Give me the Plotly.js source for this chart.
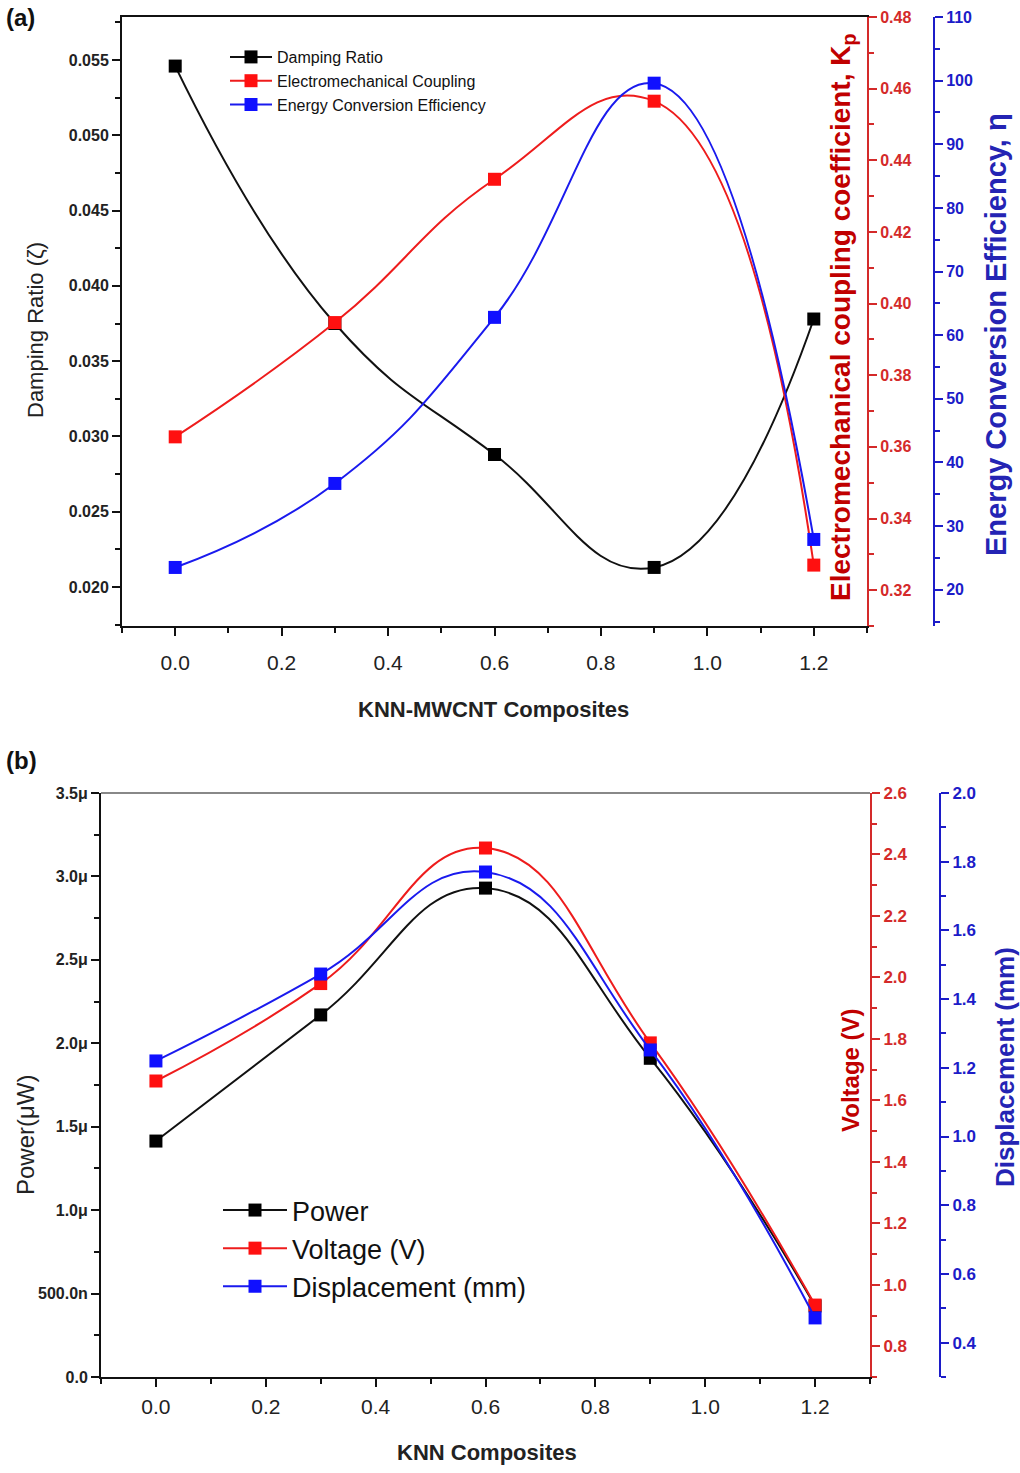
<!DOCTYPE html>
<html><head><meta charset="utf-8">
<script src="https://cdn.plot.ly/plotly-3.0.1.min.js"></script>
<style>html,body{margin:0;padding:0;background:#fff}</style>
</head><body><div id="chart" style="width:1020px;height:1473px"></div>
<script>
// ---- Panel (a) data ----
const compA = [0, 0.3, 0.6, 0.9, 1.2];
const dampingRatio = [0.0546, 0.0375, 0.0288, 0.0213, 0.0378];
const couplingKp = [0.3628, 0.3947, 0.4347, 0.4565, 0.3270];
const conversionEff = [23.5, 36.7, 62.8, 99.6, 27.9];
const namesA = ['Damping Ratio', 'Electromechanical Coupling', 'Energy Conversion Efficiency'];

// ---- Panel (b) data ----
const compB = [0, 0.3, 0.6, 0.9, 1.2];
const powerW = [1.414e-6, 2.17e-6, 2.93e-6, 1.91e-6, 0.426e-6];
const voltageV = [1.663, 1.98, 2.421, 1.787, 0.934];
const displacementMM = [1.22, 1.473, 1.77, 1.252, 0.472];
const namesB = ['Power', 'Voltage (V)', 'Displacement (mm)'];

// ---- tick labels ----
const powerTickVals = [0, 0.5e-6, 1.0e-6, 1.5e-6, 2.0e-6, 2.5e-6, 3.0e-6, 3.5e-6];
const powerTickText = ['0.0', '500.0n', '1.0\u03bc', '1.5\u03bc', '2.0\u03bc', '2.5\u03bc', '3.0\u03bc', '3.5\u03bc'];

const FONT = 'Liberation Sans, Arial, sans-serif';
const BLACK = '#111111', RED = '#ee1c1c', BLUE = '#1a1aee';
const RED_AX = '#d42a2a', BLUE_AX = '#1c1cc8';
const RED_T = '#c00000', BLUE_T = '#2424b4';

function line(x, y, color, mcolor, name, xa, ya, leg, msize) {
  return {x: x, y: y, name: name, xaxis: xa, yaxis: ya, legend: leg,
    type: 'scatter', mode: 'lines+markers',
    line: {color: color, width: 2, shape: 'spline', smoothing: 1.3},
    marker: {symbol: 'square', size: msize, color: mcolor}};
}

const traces = [
  line(compA, dampingRatio, BLACK, '#000000', namesA[0], 'x', 'y', 'legend', 13),
  line(compA, couplingKp, RED, '#ff1010', namesA[1], 'x', 'y2', 'legend', 13),
  line(compA, conversionEff, BLUE, '#1010ff', namesA[2], 'x', 'y3', 'legend', 13),
  line(compB, powerW, BLACK, '#000000', namesB[0], 'x2', 'y4', 'legend2', 13),
  line(compB, voltageV, RED, '#ff1010', namesB[1], 'x2', 'y5', 'legend2', 13),
  line(compB, displacementMM, BLUE, '#1010ff', namesB[2], 'x2', 'y6', 'legend2', 13)
];

const tickFontBold = {family: FONT, size: 16, color: '#222', weight: 'bold'};
function yax(extra) {
  return Object.assign({
    showline: true, linewidth: 2, linecolor: '#111', ticks: 'outside', ticklen: 8, tickwidth: 2,
    tickcolor: '#111', showgrid: false, zeroline: false, tickfont: tickFontBold,
    fixedrange: true
  }, extra);
}

const domA = [1 - 626/1473, 1 - 17/1473];
const domB = [1 - 1377/1473, 1 - 793/1473];

const layout = {
  width: 1020, height: 1473,
  margin: {l: 0, r: 0, t: 0, b: 0},
  paper_bgcolor: '#fff', plot_bgcolor: '#fff',
  showlegend: true,
  xaxis: {domain: [122/1020, 867/1020], anchor: 'y', range: [-0.1, 1.3], tick0: 0, dtick: 0.2,
    tickformat: '.1f', showline: true, mirror: true, linewidth: 2, linecolor: '#111',
    ticks: 'outside', ticklen: 8, tickwidth: 2, tickcolor: '#111', showgrid: false, zeroline: false,
    ticklabelstandoff: 9,
    tickfont: {family: FONT, size: 21, color: '#222'},
    minor: {ticks: 'outside', ticklen: 5, tickwidth: 2, tickcolor: '#111', dtick: 0.1, tick0: 0}},
  yaxis: yax({domain: domA, anchor: 'x', range: [0.01741, 0.05786], dtick: 0.005, tick0: 0,
    tickformat: '.3f',
    minor: {ticks: 'outside', ticklen: 5, tickwidth: 2, tickcolor: '#111', dtick: 0.0025, tick0: 0}}),
  yaxis2: yax({overlaying: 'y', side: 'right', anchor: 'x', range: [0.31, 0.48], dtick: 0.02, tick0: 0,
    tickformat: '.2f', linecolor: RED_AX, tickcolor: RED_AX,
    tickfont: Object.assign({}, tickFontBold, {color: RED_AX}),
    minor: {ticks: 'outside', ticklen: 5, tickwidth: 2, tickcolor: RED_AX, dtick: 0.01, tick0: 0}}),
  yaxis3: yax({overlaying: 'y', side: 'right', anchor: 'free', position: 934/1020, range: [14.3, 110],
    dtick: 10, tick0: 0, linecolor: BLUE_AX, tickcolor: BLUE_AX,
    tickfont: Object.assign({}, tickFontBold, {color: BLUE_AX}),
    minor: {ticks: 'outside', ticklen: 5, tickwidth: 2, tickcolor: BLUE_AX, dtick: 5, tick0: 0}}),

  xaxis2: {domain: [101/1020, 870/1020], anchor: 'y4', range: [-0.1, 1.3], tick0: 0, dtick: 0.2,
    tickformat: '.1f', showline: true, mirror: false, linewidth: 2, linecolor: '#111',
    ticks: 'outside', ticklen: 8, tickwidth: 2, tickcolor: '#111', showgrid: false, zeroline: false,
    ticklabelstandoff: 2,
    tickfont: {family: FONT, size: 21, color: '#222'},
    minor: {ticks: 'outside', ticklen: 5, tickwidth: 2, tickcolor: '#111', dtick: 0.1, tick0: 0}},
  yaxis4: yax({domain: domB, anchor: 'x2', range: [0, 3.5e-6], tickvals: powerTickVals, ticktext: powerTickText,
    minor: {ticks: 'outside', ticklen: 5, tickwidth: 2, tickcolor: '#111', dtick: 0.25e-6, tick0: 0}}),
  yaxis5: yax({overlaying: 'y4', side: 'right', anchor: 'x2', range: [0.7, 2.6], dtick: 0.2, tick0: 0,
    tickformat: '.1f', linecolor: RED_AX, tickcolor: RED_AX,
    tickfont: Object.assign({}, tickFontBold, {size: 17, color: RED_AX}),
    minor: {ticks: 'outside', ticklen: 5, tickwidth: 2, tickcolor: RED_AX, dtick: 0.1, tick0: 0}}),
  yaxis6: yax({overlaying: 'y4', side: 'right', anchor: 'free', position: 940/1020, range: [0.3, 2.0],
    dtick: 0.2, tick0: 0, tickformat: '.1f', linecolor: BLUE_AX, tickcolor: BLUE_AX,
    tickfont: Object.assign({}, tickFontBold, {size: 17, color: BLUE_AX}),
    minor: {ticks: 'outside', ticklen: 5, tickwidth: 2, tickcolor: BLUE_AX, dtick: 0.1, tick0: 0}}),

  legend: {x: 225/1020, y: 1 - 40/1473, xanchor: 'left', yanchor: 'top', bgcolor: 'rgba(0,0,0,0)',
    font: {family: FONT, size: 16, color: '#111'}, itemwidth: 42, tracegroupgap: 0},
  legend2: {x: 218/1020, y: 1 - 1186/1473, xanchor: 'left', yanchor: 'top', bgcolor: 'rgba(0,0,0,0)',
    font: {family: FONT, size: 27, color: '#111'}, itemwidth: 64, tracegroupgap: 0},

  shapes: [
    {type: 'line', xref: 'x2 domain', yref: 'y4 domain', x0: 0, x1: 1, y0: 1, y1: 1,
      line: {color: '#888', width: 2}}
  ],

  annotations: [
    {text: '<b>(a)</b>', xref: 'paper', yref: 'paper', x: 0.004, y: 1 - 18/1473, xanchor: 'left', yanchor: 'middle',
      showarrow: false, font: {family: FONT, size: 24, color: '#111'}},
    {text: '<b>(b)</b>', xref: 'paper', yref: 'paper', x: 0.004, y: 1 - 760/1473, xanchor: 'left', yanchor: 'middle',
      showarrow: false, font: {family: FONT, size: 24, color: '#111'}},
    {text: 'Damping Ratio (\u03b6)', xref: 'paper', yref: 'paper', x: 35/1020, y: 1 - 330/1473, textangle: -90,
      xanchor: 'center', yanchor: 'middle', showarrow: false, font: {family: FONT, size: 22, color: '#222'}},
    {text: '<b>KNN-MWCNT Composites</b>', xref: 'paper', yref: 'paper', x: 493/1020, y: 1 - 710/1473,
      xanchor: 'center', yanchor: 'middle', showarrow: false, font: {family: FONT, size: 22, color: '#222'}},
    {text: '<b>Electromechanical coupling coefficient, K<sub>p</sub></b>', xref: 'paper', yref: 'paper',
      x: 842/1020, y: 1 - 318/1473, textangle: -90, xanchor: 'center', yanchor: 'middle', showarrow: false,
      font: {family: FONT, size: 28, color: RED_T}},
    {text: '<b>Energy Conversion Efficiency, \u03b7</b>', xref: 'paper', yref: 'paper',
      x: 996/1020, y: 1 - 335/1473, textangle: -90, xanchor: 'center', yanchor: 'middle', showarrow: false,
      font: {family: FONT, size: 29, color: BLUE_T}},
    {text: 'Power(\u03bcW)', xref: 'paper', yref: 'paper', x: 25/1020, y: 1 - 1135/1473, textangle: -90,
      xanchor: 'center', yanchor: 'middle', showarrow: false, font: {family: FONT, size: 24, color: '#222'}},
    {text: '<b>KNN Composites</b>', xref: 'paper', yref: 'paper', x: 487/1020, y: 1 - 1452/1473,
      xanchor: 'center', yanchor: 'middle', showarrow: false, font: {family: FONT, size: 22, color: '#222'}},
    {text: '<b>Voltage (V)</b>', xref: 'paper', yref: 'paper', x: 850/1020, y: 1 - 1070/1473, textangle: -90,
      xanchor: 'center', yanchor: 'middle', showarrow: false, font: {family: FONT, size: 24, color: RED_T}},
    {text: '<b>Displacement (mm)</b>', xref: 'paper', yref: 'paper', x: 1005/1020, y: 1 - 1067/1473, textangle: -90,
      xanchor: 'center', yanchor: 'middle', showarrow: false, font: {family: FONT, size: 26, color: BLUE_T}}
  ]
};

Plotly.newPlot('chart', traces, layout, {staticPlot: true, displayModeBar: false});
</script>
</body></html>
